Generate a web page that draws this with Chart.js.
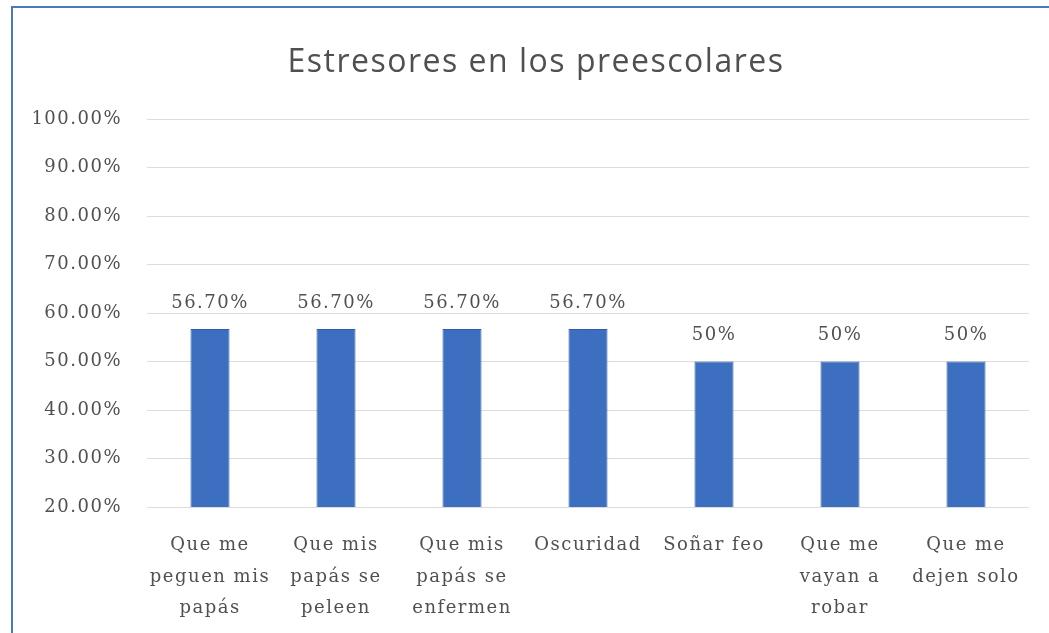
<!DOCTYPE html>
<html lang="es">
<head>
<meta charset="utf-8">
<title>Estresores en los preescolares</title>
<script src="https://cdn.jsdelivr.net/npm/chart.js@4/dist/chart.umd.min.js"></script>
<style>
  html, body { margin: 0; padding: 0; background: #fff; overflow: hidden; }
  #wrap { position: relative; width: 1049px; height: 633px; }
  #grafico { position: absolute; left: 0; top: 0; }
  /* marco azul del gráfico */
  #marco {
    position: absolute; left: 11px; top: 6px; width: 1100px; height: 700px;
    border: 2px solid #4a76c2; box-sizing: border-box; pointer-events: none;
  }
</style>
</head>
<body>
<div id="wrap">
  <canvas id="grafico" width="1049" height="633"></canvas>
  <div id="marco"></div>
</div>
<script>
/* =====================
 * DATOS
 * ===================== */

const categorias = [
  ["Que me", "peguen mis", "papás"],
  ["Que mis", "papás se", "peleen"],
  ["Que mis", "papás se", "enfermen"],
  ["Oscuridad"],
  ["Soñar feo"],
  ["Que me", "vayan a", "robar"],
  ["Que me", "dejen solo"]
];
const porcentajes = [56.7, 56.7, 56.7, 56.7, 50, 50, 50];
const ejeMin = 20;
const ejeMax = 100;
const ejePaso = 10;

const titulo = "Estresores en los preescolares";
const colorTexto = "#505050";
const fuenteEtiquetas = "'DejaVu Serif', serif";
const espaciado = "1.5px";

/* =====================
 * UTILIDADES
 * ===================== */

function formatoEtiqueta(v) {
  return Number.isInteger(v) ? v + "%" : v.toFixed(2) + "%";
}

// Espaciado entre letras para todo el texto del canvas
const espaciadoTexto = {
  id: "espaciadoTexto",
  beforeLayout(chart) { chart.ctx.letterSpacing = espaciado; },
  beforeDraw(chart) { chart.ctx.letterSpacing = espaciado; }
};

// Título centrado sobre el marco (no sobre el área del gráfico)
const tituloGrafico = {
  id: "tituloGrafico",
  afterDraw(chart) {
    const { ctx } = chart;
    ctx.save();
    ctx.font = "32px 'Open Sans', sans-serif";
    ctx.fillStyle = colorTexto;
    ctx.textAlign = "center";
    ctx.textBaseline = "middle";
    ctx.fillText(titulo, 536, 63);
    ctx.restore();
  }
};

// Etiquetas de valor sobre cada barra
const etiquetasValor = {
  id: "etiquetasValor",
  afterDatasetsDraw(chart) {
    const { ctx } = chart;
    const meta = chart.getDatasetMeta(0);
    ctx.save();
    ctx.font = "18px " + fuenteEtiquetas;
    ctx.fillStyle = colorTexto;
    ctx.textAlign = "center";
    ctx.textBaseline = "middle";
    meta.data.forEach((bar, i) => {
      ctx.fillText(formatoEtiqueta(porcentajes[i]), bar.x, bar.y - 26);
    });
    ctx.restore();
  }
};

/* =====================
 * GRÁFICO
 * ===================== */

new Chart(document.getElementById("grafico"), {
  type: "bar",
  data: {
    labels: categorias,
    datasets: [
      {
        data: porcentajes,
        backgroundColor: "#3c6fc0",
        borderColor: "#2f5ea8",
        borderWidth: 1,
        barPercentage: 0.31,
        categoryPercentage: 1
      }
    ]
  },
  options: {
    responsive: false,
    animation: false,
    layout: { padding: { left: 0, right: 20, top: 119, bottom: 0 } },
    plugins: {
      legend: { display: false },
      tooltip: { enabled: false },
      title: { display: false }
    },
    scales: {
      x: {
        grid: { display: false },
        border: { display: false },
        ticks: {
          color: colorTexto,
          padding: 15,
          maxRotation: 0,
          autoSkip: false,
          font: { family: fuenteEtiquetas, size: 18, lineHeight: 1.75 }
        },
        afterFit: (scale) => { scale.height = 126; }
      },
      y: {
        min: ejeMin,
        max: ejeMax,
        grid: { color: "#dcdcdc", drawTicks: false },
        border: { display: false },
        ticks: {
          stepSize: ejePaso,
          color: colorTexto,
          padding: 25,
          font: { family: fuenteEtiquetas, size: 18 },
          callback: (v) => Number(v).toFixed(2) + "%"
        },
        afterFit: (scale) => { scale.width = 147; }
      }
    }
  },
  plugins: [espaciadoTexto, tituloGrafico, etiquetasValor]
});
</script>
</body>
</html>
